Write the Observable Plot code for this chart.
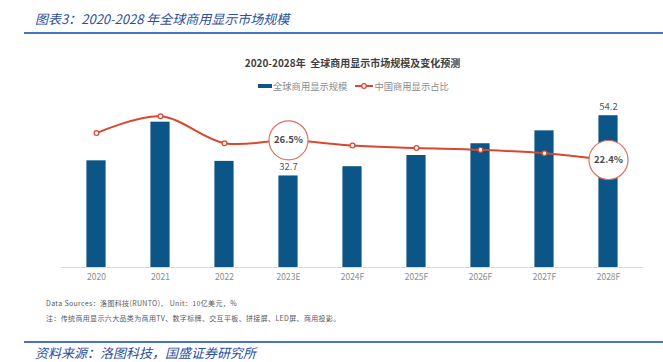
<!DOCTYPE html>
<html>
<head>
<meta charset="utf-8">
<script src="https://cdn.jsdelivr.net/npm/d3@7"></script>
<script src="https://cdn.jsdelivr.net/npm/@observablehq/plot@0.6"></script>
<style>
  html, body { margin: 0; padding: 0; background: #fff; }
  #wrap { position: relative; width: 663px; height: 362px; overflow: hidden; background: #fff;
          font-family: "Noto Sans CJK SC", "Noto Sans", sans-serif; }
  .abs { position: absolute; white-space: nowrap; }
  #plot { position: absolute; left: 0; top: 92px; }
</style>
</head>
<body>
<div id="wrap">
  <div id="plot"></div>
  <div class="abs" style="left:35px;top:9px;font-size:13px;font-style:italic;color:#2c4f9e;">图表3：2020-2028 年全球商用显示市场规模</div>
  <div class="abs" style="left:24px;top:32px;width:639px;height:1.5px;background:#4a74bf;"></div>
  <div class="abs" style="left:0;width:663px;top:55px;text-align:center;padding-left:42px;box-sizing:border-box;font-size:10px;font-weight:bold;color:#404040;">2020-2028年&nbsp;&nbsp;全球商用显示市场规模及变化预测</div>
  <div class="abs" id="legend" style="left:258px;top:79px;font-size:9.3px;color:#8c8c8c;display:flex;align-items:center;">
    <span style="display:inline-block;width:14px;height:4px;background:#0b5687;margin-right:1px;"></span>
    <span>全球商用显示规模</span>
    <svg width="18" height="10" style="margin-left:8px;margin-right:1px;">
      <line x1="0" y1="5" x2="18" y2="5" stroke="#d9472f" stroke-width="2"></line>
      <circle cx="9" cy="5" r="2.3" fill="#fff" stroke="#d9472f" stroke-width="1.2"></circle>
    </svg>
    <span>中国商用显示占比</span>
  </div>
  <div class="abs" style="left:46px;top:298px;font-size:7px;letter-spacing:0.35px;color:#595959;">Data Sources：洛图科技(RUNTO)， Unit：10亿美元，%</div>
  <div class="abs" style="left:46px;top:313px;font-size:7px;letter-spacing:0.35px;color:#595959;">注：传统商用显示六大品类为商用TV、数字标牌、交互平板、拼接屏、LED屏、商用投影。</div>
  <div class="abs" style="left:24px;top:341px;width:639px;height:1.5px;background:#4a74bf;"></div>
  <div class="abs" style="left:35px;top:343px;font-size:13px;font-style:italic;color:#2c4f9e;">资料来源：洛图科技，国盛证券研究所</div>
</div>
<script>
// Data
const years = ["2020", "2021", "2022", "2023E", "2024F", "2025F", "2026F", "2027F", "2028F"];
const marketSize = [38.1, 51.9, 37.9, 32.7, 36.0, 40.0, 44.2, 48.8, 54.2]; // 10亿美元
const chinaShare = [28.0, 31.5, 25.9, 26.5, 25.4, 24.9, 24.5, 23.8, 22.4]; // %
const labeledBars = ["2023E", "2028F"];
const labeledShare = ["2023E", "2028F"];

const sizeMax = 60;   // left axis max
const shareMax = 35;  // right (hidden) axis max
const rows = years.map((y, i) => ({year: y, size: marketSize[i], share: chinaShare[i]}));
const shareY = d => d.share * sizeMax / shareMax;

const barColor = "#0b5687";
const lineColor = "#d9472f";

const chart = Plot.plot({
  width: 663,
  height: 200,
  marginLeft: 61,
  marginRight: 20,
  marginTop: 7,
  marginBottom: 25,
  style: {fontFamily: "'Noto Sans CJK SC', 'Noto Sans', sans-serif", background: "transparent"},
  x: {type: "band", domain: years, padding: 0, label: null},
  y: {domain: [0, sizeMax], axis: null},
  marks: [
    Plot.ruleY([0], {stroke: "#d9d9d9", strokeWidth: 1}),
    Plot.barY(rows, {x: "year", y: "size", fill: barColor, insetLeft: 22.4, insetRight: 22.4}),
    Plot.text(rows.filter(d => labeledBars.includes(d.year)), {
      x: "year", y: "size", text: d => d.size.toFixed(1), dy: -9,
      fontSize: 9.5, fill: "#595959"
    }),
    Plot.line(rows, {x: "year", y: shareY, stroke: lineColor, strokeWidth: 2, curve: "catmull-rom"}),
    Plot.dot(rows.filter(d => !labeledShare.includes(d.year)), {
      x: "year", y: shareY, r: 2.4, fill: "#fff", stroke: lineColor, strokeWidth: 1.2
    }),
    Plot.dot(rows.filter(d => labeledShare.includes(d.year)), {
      x: "year", y: shareY, r: 19.5, fill: "#fff", stroke: "#e0705f", strokeWidth: 1.2
    }),
    Plot.text(rows.filter(d => labeledShare.includes(d.year)), {
      x: "year", y: shareY, text: d => d.share.toFixed(1) + "%",
      fontSize: 9.5, fontWeight: "bold", fill: "#4d4d4d"
    }),
    Plot.axisX({tickSize: 0, tickPadding: 6, fontSize: 8.5, color: "#8c8c8c", label: null})
  ]
});
document.getElementById("plot").appendChild(chart);
</script>
</body>
</html>
